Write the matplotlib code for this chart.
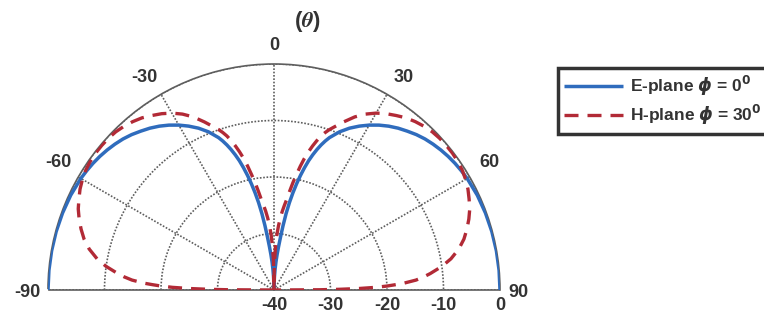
import numpy as np
import matplotlib
matplotlib.use("Agg")
import matplotlib.pyplot as plt

plt.rcParams["font.family"] = ["Liberation Sans", "DejaVu Sans"]
plt.rcParams["font.weight"] = "bold"

# pattern samples for theta >= 0 (degrees), levels in dB; mirrored for theta < 0
e_theta = [0, 1, 2, 3, 4, 5, 6, 7, 8, 9, 10, 11, 12, 13, 14, 15, 16, 17, 18, 19, 20,
           22.5, 25, 27.5, 30, 32.5, 35, 37.5, 40, 42.5, 45, 47.5, 50, 52.5, 55,
           57.5, 60, 65, 70, 75, 80, 85, 90]
e_level = [-40, -38.9, -37.6, -36.3, -35.0, -33.7, -32.3, -30.6, -28.5, -26.3,
           -24.3, -22.5, -20.8, -19.2, -17.7, -16.3, -15.1, -14.0, -13.0, -12.1,
           -11.3, -9.7, -8.4, -7.3, -6.3, -5.4, -4.6, -3.9, -3.3, -2.7, -2.2,
           -1.8, -1.45, -1.15, -0.9, -0.7, -0.52, -0.3, -0.17, -0.08, -0.03,
           -0.01, 0]

h_theta = [0, 0.5, 1, 2, 3, 4, 5, 6, 7, 8, 9, 10, 11, 12, 13, 14, 15, 16, 17, 18,
           19, 20, 22.5, 25, 27.5, 30, 32.5, 35, 37.5, 40, 42.5, 45, 47.5, 50,
           52.5, 55, 57.5, 60, 62.5, 65, 67.5, 70, 72.5, 75, 77.5, 80, 82, 84, 85,
           86, 87, 87.5, 88, 88.5, 89, 89.4, 89.7, 90]
h_level = [-40, -37, -35, -32.2, -30.2, -28.6, -27.2, -26, -24.9, -23.8, -22.3,
           -20.7, -19.2, -17.6, -16.1, -14.8, -13.6, -12.5, -11.5, -10.7, -10.0,
           -9.4, -7.8, -6.2, -4.9, -3.85, -3.0, -2.3, -1.6, -1.1, -0.7, -0.4,
           -0.25, -0.2, -0.2, -0.3, -0.5, -0.85, -1.3, -1.9, -2.5, -3.3, -4.2,
           -5.2, -6.5, -8.2, -10, -12.2, -13.4, -14.8, -17, -18.5, -20, -22, -25,
           -28.5, -32, -40]

theta_ticks = [-90, -60, -30, 0, 30, 60, 90]
r_ticks = [-40, -30, -20, -10, 0]

E_COLOR = "#2f6cbd"
H_COLOR = "#b22a36"
GRID_COLOR = "#5e5e5e"
TEXT_COLOR = "#333333"

# where each angle label sits: (angle, radius in dB, horizontal alignment)
theta_label_pos = {
    -90: (-90.5, 1.4, "right"), -60: (-59.5, 4.35, "center"),
    -30: (-31.5, 4.05, "center"), 0: (0, 3.2, "center"),
    30: (31.5, 4.05, "center"), 60: (59.5, 4.35, "center"),
    90: (90.5, 1.4, "left"),
}


def mirror(theta, level):
    theta = np.asarray(theta, dtype=float)
    level = np.asarray(level, dtype=float)
    t = np.concatenate([-theta[::-1], theta[1:]])
    r = np.concatenate([level[::-1], level[1:]])
    return np.deg2rad(t), r


W, H = 764, 325
cx, cy, R = 274, 290, 226

fig = plt.figure(figsize=(W / 100, H / 100), dpi=100)
# the half-disc sits centred in a square box of side 2R
side = 2 * R
box_top = cy - 0.75 * side
ax = fig.add_axes([(cx - R) / W, (H - box_top - side) / H, side / W, side / H],
                  projection="polar")
ax.set_theta_zero_location("N")
ax.set_theta_direction(-1)
ax.set_thetamin(-90)
ax.set_thetamax(90)
ax.set_rlim(-40, 0)

dotted = (0, (1, 1))
ax.set_thetagrids(theta_ticks, labels=[""] * len(theta_ticks))
ax.set_rgrids(r_ticks, labels=[""] * len(r_ticks))
ax.grid(True, linestyle=dotted, color=GRID_COLOR, linewidth=1.2)
for name in ("polar", "start", "end", "inner"):
    ax.spines[name].set_linestyle(dotted)
    ax.spines[name].set_color(GRID_COLOR)
    ax.spines[name].set_linewidth(1.2)

t_e, r_e = mirror(e_theta, e_level)
t_h, r_h = mirror(h_theta, h_level)
ax.plot(t_e, r_e, color=E_COLOR, linewidth=2.5, label=r"E-plane $\phi$ = 0$^\mathbf{0}$",
        solid_capstyle="butt", solid_joinstyle="round", zorder=3)
ax.plot(t_h, r_h, color=H_COLOR, linewidth=2.4, linestyle=(0, (4.2, 2.7)),
        label=r"H-plane $\phi$ = 30$^\mathbf{0}$", zorder=4)

# angle labels outside the rim
for t in theta_ticks:
    ang, rad, ha = theta_label_pos[t]
    ax.text(np.deg2rad(ang), rad, str(t), ha=ha, va="center",
            fontsize=13, fontweight="bold", color=TEXT_COLOR, clip_on=False)

# level labels under the baseline
for r in r_ticks:
    ax.annotate(str(r), xy=(np.deg2rad(90), r), xytext=(0, -15),
                textcoords="offset pixels", ha="center", va="center",
                fontsize=13, fontweight="bold", color=TEXT_COLOR, annotation_clip=False)

fig.text(307 / W, 1 - 21 / H, r"($\theta$)", ha="center", va="center",
         fontsize=16, fontweight="bold", color=TEXT_COLOR, math_fontfamily="stix")

leg = fig.legend(loc="upper left", bbox_to_anchor=(558 / W, 1 - 68 / H),
                 fontsize=12.5, frameon=True, fancybox=False, framealpha=1,
                 edgecolor=TEXT_COLOR, handlelength=3.4, handletextpad=0.4,
                 labelspacing=0.3, borderpad=0.35, borderaxespad=0)
leg.get_frame().set_linewidth(2.5)
for txt in leg.get_texts():
    txt.set_color(TEXT_COLOR)
    txt.set_fontweight("bold")

fig.savefig("out.png", dpi=100)
